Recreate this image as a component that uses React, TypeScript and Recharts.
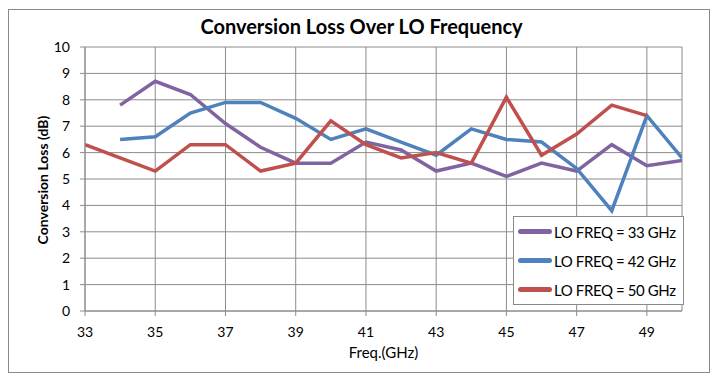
import React from "react";
import { LineChart, Line, XAxis, YAxis, CartesianGrid, Legend } from "recharts";

const freqs = [33, 34, 35, 36, 37, 38, 39, 40, 41, 42, 43, 44, 45, 46, 47, 48, 49, 50];
const lo33 = [null, 7.8, 8.7, 8.2, 7.1, 6.2, 5.6, 5.6, 6.4, 6.1, 5.3, 5.6, 5.1, 5.6, 5.3, 6.3, 5.5, 5.7];
const lo42 = [null, 6.5, 6.6, 7.5, 7.9, 7.9, 7.3, 6.5, 6.9, 6.4, 5.9, 6.9, 6.5, 6.4, 5.4, 3.8, 7.4, 5.8];
const lo50 = [6.3, 5.8, 5.3, 6.3, 6.3, 5.3, 5.6, 7.2, 6.3, 5.8, 6.0, 5.6, 8.1, 5.9, 6.7, 7.8, 7.4, null];
const xTicks = [33, 35, 37, 39, 41, 43, 45, 47, 49];
const yTicks = [0, 1, 2, 3, 4, 5, 6, 7, 8, 9, 10];

const series = [
  { key: "lo33", name: "LO FREQ = 33 GHz", color: "#8064A2" },
  { key: "lo42", name: "LO FREQ = 42 GHz", color: "#4F81BD" },
  { key: "lo50", name: "LO FREQ = 50 GHz", color: "#C0504D" },
];

const data = freqs.map((f, i) => ({ f, lo33: lo33[i], lo42: lo42[i], lo50: lo50[i] }));

const LegendBox = () => (
  <div
    style={{
      border: "1px solid #8a8a8a",
      background: "#fff",
      width: 171,
      height: 89,
      boxSizing: "border-box",
      paddingTop: 0,
    }}
  >
    {series.map((s) => (
      <div key={s.key} style={{ display: "flex", alignItems: "center", height: 29, paddingLeft: 4 }}>
        <div style={{ width: 34, height: 5, borderRadius: 3, background: s.color, marginRight: 2 }} />
        <span style={{ fontSize: 15, letterSpacing: -0.4, color: "#000", whiteSpace: "nowrap" }}>{s.name}</span>
      </div>
    ))}
  </div>
);

export default function App() {
  return (
    <div
      style={{
        position: "fixed",
        left: 0,
        top: 0,
        width: 721,
        height: 383,
        background: "#fff",
        fontFamily: "Lato, 'Open Sans', sans-serif",
      }}
    >
      <div
        style={{
          position: "absolute",
          left: 8,
          top: 9,
          width: 702,
          height: 364,
          border: "1px solid #8a8a8a",
          boxSizing: "border-box",
        }}
      />
      <div
        style={{
          position: "absolute",
          left: 0,
          width: 723,
          top: 14,
          textAlign: "center",
          fontSize: 20,
          fontWeight: "bold",
          color: "#000",
        }}
      >
        Conversion Loss Over LO Frequency
      </div>
      <LineChart
        width={721}
        height={383}
        data={data}
        margin={{ top: 47, right: 39, bottom: 22, left: 25 }}
        style={{ position: "absolute", left: 0, top: 0 }}
      >
        <CartesianGrid stroke="#8c8c8c" strokeWidth={1} />
        <XAxis
          dataKey="f"
          type="number"
          domain={[33, 50]}
          ticks={xTicks}
          allowDataOverflow
          height={50}
          tickSize={5}
          tickMargin={11}
          stroke="#8c8c8c"
          tick={{ fill: "#000", fontSize: 14 }}
          label={{ value: "Freq.(GHz)", position: "insideBottom", offset: 3, fill: "#000", fontSize: 15 }}
        />
        <YAxis
          type="number"
          domain={[0, 10]}
          ticks={yTicks}
          width={60}
          tickSize={5}
          tickMargin={10}
          stroke="#8c8c8c"
          tick={{ fill: "#000", fontSize: 14 }}
          label={() => (
            <text
              x={42}
              y={180}
              transform="rotate(-90 42 180)"
              textAnchor="middle"
              dominantBaseline="central"
              fontSize={14}
              fontWeight="bold"
              fill="#000"
            >
              Conversion Loss (dB)
            </text>
          )}
        />
        {series.map((s) => (
          <Line
            key={s.key}
            dataKey={s.key}
            name={s.name}
            type="linear"
            stroke={s.color}
            strokeWidth={3.5}
            dot={false}
            isAnimationActive={false}
          />
        ))}
        <Legend
          layout="vertical"
          align="center"
          verticalAlign="middle"
          content={() => <LegendBox />}
          wrapperStyle={{ left: 513, top: 216, width: 171 }}
        />
      </LineChart>
    </div>
  );
}
